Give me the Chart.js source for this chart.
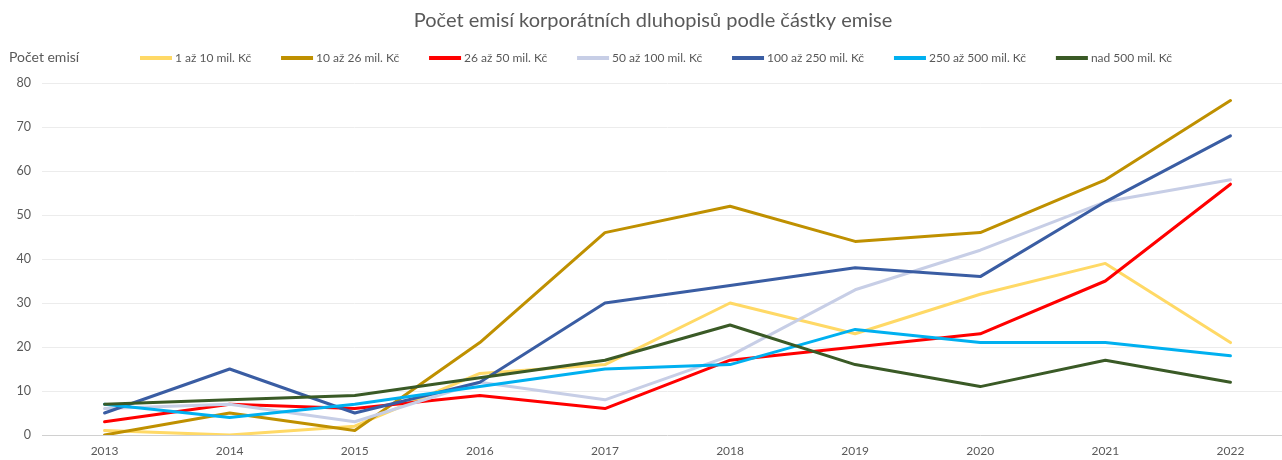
<!DOCTYPE html>
<html><head><meta charset="utf-8">
<script src="https://cdn.jsdelivr.net/npm/chart.js@4/dist/chart.umd.min.js"></script>
<style>
html,body{margin:0;padding:0;overflow:hidden;background:#fff}
#wrap{width:1293px;height:460px;position:relative}
</style></head>
<body><div id="wrap"><canvas id="c"></canvas></div>
<script>
const years = ['2013','2014','2015','2016','2017','2018','2019','2020','2021','2022'];
const seriesNames = ['1 až 10 mil. Kč','10 až 26 mil. Kč','26 až 50 mil. Kč','50 až 100 mil. Kč','100 až 250 mil. Kč','250 až 500 mil. Kč','nad 500 mil. Kč'];
const s1to10    = [1, 0, 2, 14, 16, 30, 23, 32, 39, 21];
const s10to26   = [0, 5, 1, 21, 46, 52, 44, 46, 58, 76];
const s26to50   = [3, 7, 6, 9, 6, 17, 20, 23, 35, 57];
const s50to100  = [6, 7, 3, 12, 8, 18, 33, 42, 53, 58];
const s100to250 = [5, 15, 5, 12, 30, 34, 38, 36, 53, 68];
const s250to500 = [7, 4, 7, 11, 15, 16, 24, 21, 21, 18];
const sOver500  = [7, 8, 9, 13, 17, 25, 16, 11, 17, 12];
const yTicks = [0, 10, 20, 30, 40, 50, 60, 70, 80];
const titleText = 'Počet emisí korporátních dluhopisů podle částky emise';
const yAxisTitle = 'Počet emisí';

const colors = ['#FFD966','#BF9000','#FF0000','#C7CEE6','#3A5DA3','#00B0F0','#3A5A26'];
const values = [s1to10, s10to26, s26to50, s50to100, s100to250, s250to500, sOver500];
const FONT = 'Lato, "Open Sans", sans-serif';
const TXT = '#595959';

const datasets = values.map((v, i) => ({
  label: seriesNames[i],
  data: v,
  borderColor: colors[i],
  backgroundColor: colors[i],
  borderWidth: 3,
  pointRadius: 0,
  tension: 0,
  fill: false,
  order: values.length - 1 - i,
  borderJoinStyle: 'round',
  borderCapStyle: 'round'
}));

const decor = {
  id: 'decor',
  afterDraw(chart) {
    const ctx = chart.ctx;
    ctx.save();
    ctx.fillStyle = TXT;
    ctx.textBaseline = 'middle';
    ctx.font = '20px ' + FONT;
    ctx.textAlign = 'center';
    ctx.fillText(titleText, 653, 21);
    ctx.textAlign = 'left';
    ctx.font = '14px ' + FONT;
    ctx.fillText(yAxisTitle, 9, 57);
    ctx.font = '12px ' + FONT;
    const lineW = 32, gapT = 3, startX = 140, endX = 1172;
    const ds = chart.data.datasets;
    const widths = ds.map(d => ctx.measureText(d.label).width);
    const used = widths.reduce((a, w) => a + lineW + gapT + w, 0);
    const gap = (endX - startX - used) / (ds.length - 1);
    let x = startX;
    const y = 58;
    ds.forEach((d, i) => {
      ctx.fillStyle = d.borderColor;
      ctx.fillRect(x, y - 2, lineW, 4);
      x += lineW + gapT;
      ctx.fillStyle = TXT;
      ctx.fillText(d.label, x, y);
      x += widths[i] + gap;
    });
    ctx.restore();
  }
};

new Chart(document.getElementById('c'), {
  type: 'line',
  data: { labels: years, datasets },
  plugins: [decor],
  options: {
    responsive: true,
    maintainAspectRatio: false,
    animation: false,
    layout: { padding: { top: 83, left: 0, right: 0, bottom: 0 } },
    plugins: { legend: { display: false }, title: { display: false }, tooltip: { enabled: false } },
    scales: {
      x: {
        offset: true,
        grid: { display: false },
        border: { display: false },
        ticks: { color: TXT, font: { family: FONT, size: 12 }, padding: 1, maxRotation: 0 },
        afterFit(s) { s.height = 25; }
      },
      y: {
        min: 0, max: 80,
        afterBuildTicks(s) { s.ticks = yTicks.map(v => ({ value: v })); },
        grid: {
          drawTicks: false,
          color: (c) => c.tick && c.tick.value === 0 ? '#d0d0d0' : '#ececec',
          lineWidth: 1
        },
        border: { display: false },
        ticks: { color: TXT, font: { family: FONT, size: 12.5 }, padding: 11 },
        afterFit(s) { s.width = 42; }
      }
    }
  }
});
</script>
</body></html>
